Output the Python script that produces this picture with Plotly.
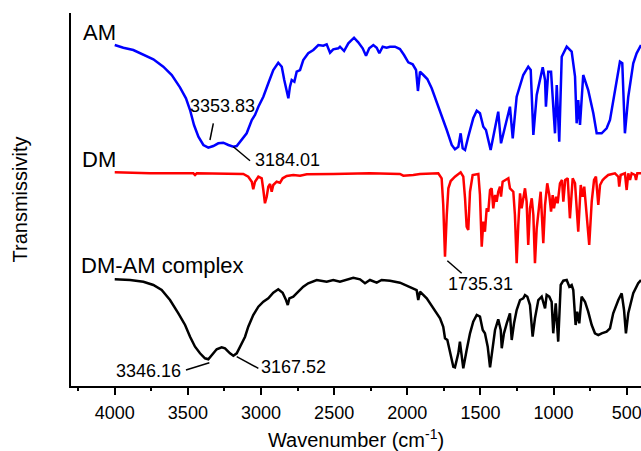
import plotly.graph_objects as go

# ---- AM (blue) ----
am_wn = [4000, 3941, 3873, 3804, 3736, 3668, 3610, 3554, 3513, 3485,
         3458, 3428, 3394, 3360, 3326, 3292, 3258, 3223, 3189, 3166,
         3132, 3098, 3063, 3041, 3018, 2984, 2950, 2916, 2882, 2858,
         2841, 2824, 2813, 2802, 2790, 2772, 2756, 2733, 2711, 2677,
         2642, 2608, 2574, 2551, 2528, 2506, 2471, 2460, 2432, 2403,
         2364, 2335, 2305, 2282, 2260, 2232, 2209, 2191, 2168, 2141,
         2118, 2084, 2050, 2022, 1993, 1963, 1940, 1927, 1913, 1890,
         1863, 1833, 1806, 1765, 1730, 1696, 1674, 1651, 1635, 1621,
         1605, 1583, 1549, 1525, 1503, 1480, 1462, 1446, 1430, 1412,
         1378, 1359, 1332, 1298, 1279, 1252, 1207, 1173, 1156, 1138,
         1115, 1074, 1058, 1052, 1036, 1017, 990, 978, 961, 944,
         910, 876, 853, 842, 831, 819, 797, 763, 728, 705,
         671, 637, 614, 580, 546, 530, 512, 489, 455, 432,
         402]
am_t = [341, 338.3, 336, 331.7, 326.7, 319.3, 311, 298.7, 287.7, 276,
        261, 249.3, 241, 238.3, 240, 242.7, 243.3, 241, 239.3, 240,
        246, 252.7, 266, 271, 279.3, 289.3, 302.7, 316, 323.3, 319.3,
        306, 292.7, 287.7, 299.3, 306, 304.3, 314.3, 316, 326, 332.7,
        336, 341, 340.3, 341.7, 333.3, 336.7, 337.7, 339.3, 335, 342.7,
        348.3, 343.7, 337.7, 330.3, 337.7, 341, 338.3, 332.7, 339.3, 338.3,
        339.3, 339.3, 337, 331, 323.7, 321.7, 316, 295, 314.3, 311,
        307, 297.7, 287, 269.3, 256, 241, 236.7, 239.3, 252.7, 237.7,
        236, 249.3, 267.7, 275.3, 272.7, 259.3, 256, 246, 236, 249.3,
        274.3, 242.7, 259.3, 279.3, 247.7, 289.3, 311, 319.3, 316, 251,
        291, 318.7, 306, 279.3, 314.3, 314.3, 252.7, 301, 244.3, 329.3,
        339.3, 334.3, 309.3, 262.7, 286, 261, 311, 296, 272.7, 252.7,
        252.7, 257.7, 266, 296, 324.3, 322.7, 252.7, 289.3, 322.7, 332.7,
        341]

# ---- DM (red) ----
dm_wn = [4000, 3759, 3463, 3451, 3439, 3189, 3121, 3087, 3063, 3053,
         3041, 3018, 2995, 2984, 2973, 2961, 2950, 2938, 2927, 2916,
         2893, 2870, 2852, 2824, 2779, 2733, 2687, 2506, 2255, 2050,
         2027, 1959, 1913, 1788, 1765, 1754, 1742, 1730, 1719, 1703,
         1674, 1635, 1617, 1605, 1594, 1583, 1571, 1553, 1514, 1503,
         1491, 1480, 1469, 1457, 1446, 1434, 1423, 1412, 1400, 1389,
         1378, 1366, 1359, 1348, 1332, 1309, 1298, 1286, 1275, 1264,
         1252, 1241, 1229, 1218, 1195, 1184, 1173, 1161, 1149, 1138,
         1127, 1115, 1104, 1088, 1070, 1058, 1043, 1029, 1017, 1006,
         997, 983, 972, 956, 942, 933, 920, 903, 888, 869,
         853, 842, 831, 814, 801, 790, 778, 769, 756, 739,
         723, 710, 694, 682, 664, 648, 626, 580, 557, 551,
         541, 512, 500, 489, 477, 466, 443, 436, 427, 402]
dm_t = [213.7, 212.7, 212.7, 211, 212.7, 212.7, 212, 209.3, 204.3, 196.7,
        204.3, 209.3, 207.7, 196, 182.7, 189.3, 199.3, 202, 194.3, 201,
        204.3, 203.3, 207.7, 210, 211, 210.3, 211.7, 212, 212.7, 212,
        210.3, 211, 212, 212.7, 207.7, 181, 129.3, 171, 197.7, 205,
        209.3, 213.7, 209.3, 187.7, 159.3, 156, 194.3, 211, 212, 191,
        139.3, 164.3, 154.3, 177.7, 174.3, 196, 197.7, 177.7, 191, 184.3,
        194.3, 199.3, 189.3, 204.3, 206, 207.7, 197.7, 196, 194.3, 171,
        122.7, 161, 192.7, 177.7, 197.7, 184.3, 141, 177.7, 187.7, 171,
        122.7, 157.7, 171, 194.3, 142.7, 181, 202.7, 191, 174.3, 191,
        177.7, 189.3, 182.7, 202.7, 206, 184.3, 206, 207.7, 167.7, 207.7,
        202.7, 177.7, 154.3, 201, 189.3, 199.3, 181, 161, 141, 184.3,
        206, 209.3, 181, 201, 206, 208.3, 211, 212.7, 209.3, 199.3,
        211, 212.7, 196, 212.7, 206, 212.7, 211, 206, 212.7, 212.7]

# ---- DM-AM complex (black) ----
cx_wn = [4000, 3895, 3804, 3736, 3679, 3622, 3565, 3519, 3485, 3451,
         3417, 3383, 3360, 3337, 3303, 3269, 3246, 3212, 3189, 3166,
         3143, 3109, 3087, 3053, 3018, 2984, 2950, 2916, 2882, 2852,
         2829, 2817, 2806, 2779, 2745, 2711, 2677, 2619, 2551, 2506,
         2460, 2414, 2369, 2323, 2289, 2255, 2209, 2175, 2118, 2050,
         1981, 1936, 1925, 1913, 1867, 1822, 1776, 1754, 1742, 1726,
         1708, 1685, 1674, 1651, 1640, 1628, 1617, 1594, 1571, 1549,
         1525, 1503, 1484, 1469, 1450, 1434, 1419, 1400, 1378, 1361,
         1354, 1339, 1320, 1298, 1286, 1270, 1252, 1229, 1207, 1195,
         1179, 1161, 1143, 1127, 1104, 1081, 1058, 1047, 1029, 1013,
         1002, 985, 968, 951, 933, 910, 892, 876, 865, 849,
         838, 824, 808, 785, 763, 739, 717, 694, 671, 637,
         614, 592, 557, 534, 518, 505, 489, 455, 421, 402]
cx_t = [106.7, 106, 104.3, 101, 96, 86, 72.7, 61, 49.3, 39.3,
        32.7, 27.7, 26.7, 31, 36.7, 38.7, 37.7, 32.7, 30.3, 32.7,
        39.3, 49.3, 59.3, 71, 79.3, 84.3, 87.7, 93.3, 96.7, 93.3,
        86, 81, 87.7, 89.3, 94.3, 99.3, 102.7, 106, 104.3, 106,
        104.3, 106.7, 108.3, 106.7, 102.7, 106, 103.3, 106, 105.3, 103.3,
        99.3, 96, 86, 94.3, 87.7, 77.7, 67.7, 59.3, 47.7, 46,
        34.3, 19.3, 18.7, 32.7, 44.3, 29.3, 17.7, 36, 52.7, 64.3,
        71, 69.3, 56, 52.7, 39.3, 18.7, 36, 56, 66.7, 56,
        37.7, 52.7, 62.7, 72.7, 46, 62.7, 76, 86, 87.7, 91,
        89.3, 81, 49.3, 67.7, 86, 89.3, 77.7, 91, 89.3, 84.3,
        52.7, 82.7, 44.3, 101, 105.3, 106, 99.3, 101, 96, 61,
        74.3, 62.7, 89.3, 84.3, 74.3, 61, 52.7, 51, 52.7, 54.3,
        57.7, 72.7, 86, 92.7, 76, 52.7, 72.7, 92.7, 102.7, 106]

major_ticks = [4000, 3500, 3000, 2500, 2000, 1500, 1000, 500]
tick_labels = ["4000", "3500", "3000", "2500", "2000", "1500", "1000", "500"]

assert len(am_wn) == len(am_t)
assert len(dm_wn) == len(dm_t)
assert len(cx_wn) == len(cx_t)

FONT = "Liberation Sans, Arial, sans-serif"

fig = go.Figure()
for wn, t, col, name in [(am_wn, am_t, "#0000FF", "AM"),
                         (dm_wn, dm_t, "#FF0000", "DM"),
                         (cx_wn, cx_t, "#000000", "DM-AM complex")]:
    fig.add_trace(go.Scatter(x=wn, y=t, mode="lines", name=name,
                             line=dict(color=col, width=2.5),
                             showlegend=False, hoverinfo="skip"))

X_RANGE = [4299, 402]

fig.update_layout(
    width=641, height=451,
    margin=dict(l=71, r=0, t=13, b=65),
    paper_bgcolor="white", plot_bgcolor="white",
    font=dict(family=FONT, color="black", size=18),
    xaxis=dict(range=X_RANGE, tickvals=major_ticks, ticktext=tick_labels,
               ticks="outside", ticklen=7, tickwidth=1.5, tickcolor="black",
               ticklabelstandoff=3, ticklabeloverflow="allow",
               showline=True, linewidth=1.5, linecolor="black",
               showgrid=False, zeroline=False,
               minor=dict(ticks="outside", ticklen=3, tickwidth=1.5,
                          tickcolor="black", tick0=0, dtick=250, showgrid=False),
               tickfont=dict(size=18, family=FONT, color="black"),
               title=dict(text="Wavenumber (cm<sup>-1</sup>)",
                          font=dict(size=20, family=FONT, color="black"),
                          standoff=12)),
    xaxis2=dict(range=X_RANGE, overlaying="x", side="top", anchor="y",
                matches="x",
                ticks="outside", ticklen=3, tickwidth=1.5, tickcolor="black",
                tick0=0, dtick=250, showticklabels=False,
                showline=True, linewidth=1.5, linecolor="black",
                showgrid=False, zeroline=False),
    yaxis=dict(range=[0, 373], showline=True, linewidth=1.5, linecolor="black",
               ticks="", showticklabels=False, showgrid=False, zeroline=False,
               title=dict(text="Transmissivity",
                          font=dict(size=20, family=FONT, color="black"),
                          standoff=36)),
)

# curve labels
labels = [("AM", 4230, 353.5), ("DM", 4237, 226.3), ("DM-AM complex", 4244, 121)]
for txt, x, y in labels:
    fig.add_annotation(x=x, y=y, text=txt, showarrow=False, xanchor="left",
                       yanchor="middle", font=dict(size=22, family=FONT, color="black"))

# peak annotations
peaks = [("3353.83", 3266, 280.5, (3326, 262.7), (3349, 246)),
         ("3184.01", 2819, 226.3, (3189, 239.3), (3075, 225.3)),
         ("1735.31", 1496, 102.5, (1726, 125.3), (1628, 112.7)),
         ("3346.16", 3770, 14.7, (3513, 16), (3353, 23.3)),
         ("3167.52", 2776, 19, (3166, 29.3), (3018, 17.7))]
for txt, x, y, p0, p1 in peaks:
    fig.add_annotation(x=x, y=y, text=txt, showarrow=False, xanchor="center",
                       yanchor="middle", font=dict(size=18, family=FONT, color="black"))
    fig.add_shape(type="line", x0=p0[0], y0=p0[1], x1=p1[0], y1=p1[1],
                  xref="x", yref="y", line=dict(color="black", width=1.5))

fig.write_html("out.html",
               config={"displayModeBar": False},
               post_script="document.body.style.margin='0';document.body.style.overflow='hidden';")
